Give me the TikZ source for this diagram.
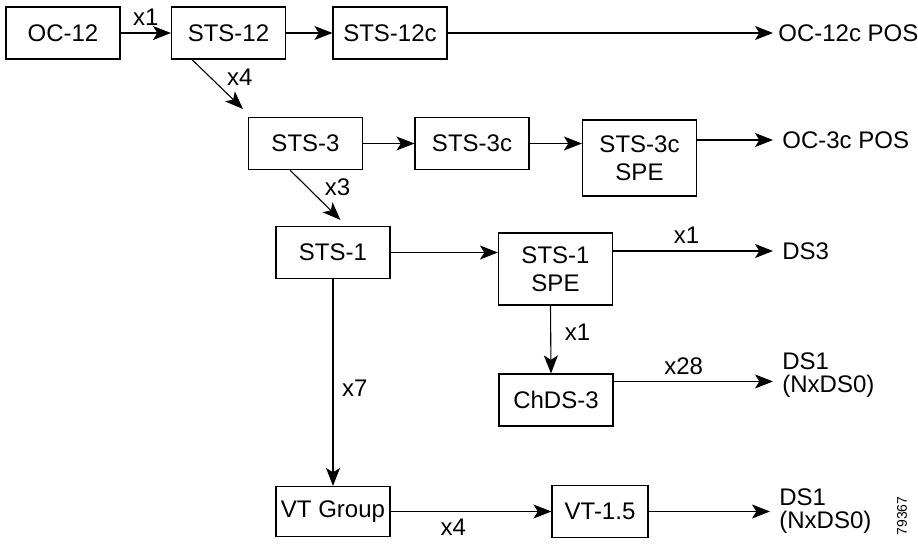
\documentclass[tikz,border=0pt]{standalone}
\usepackage{fontspec}
\setmainfont{Liberation Sans}
\usetikzlibrary{arrows.meta}

\begin{document}
\begin{tikzpicture}[x=0.5pt,y=-0.5pt,
    font=\fontsize{12}{14}\selectfont,
    blk/.style={draw,line width=0.55pt,inner sep=0pt,minimum width=57pt,minimum height=26pt,align=center},
    sig/.style={anchor=west,inner xsep=4.5pt,inner ysep=0pt,align=left,font=\fontsize{12}{11.5}\selectfont},
    arr/.style={-{Stealth[length=9pt,width=7pt,inset=2.2pt]},line width=0.55pt}
    ]
\useasboundingbox (0,0) rectangle (918,546);
\node[blk] (oc12) at (63,33) {OC-12};
\node[blk] (sts12) at (228.5,33) {STS-12};
\node[blk] (sts12c) at (390,33) {STS-12c};
\node[blk] (sts3) at (305.5,143.5) {STS-3};
\node[blk] (sts3c) at (472,143.5) {STS-3c};
\node[blk,minimum height=38pt] (sts3spe) at (639.5,158) {STS-3c\\SPE};
\node[blk] (sts1) at (333,252.5) {STS-1};
\node[blk,minimum height=36pt] (sts1spe) at (555.5,269) {STS-1\\SPE};
\node[blk] (chds3) at (556,400) {ChDS-3};
\node[blk,minimum height=25pt] (vtgrp) at (333,511.5) {VT Group};
\node[blk,minimum width=48pt] (vt15) at (600,511.5) {VT-1.5};
\node[sig,inner xsep=2.5pt] (oc12cpos) at (773,33) {OC-12c POS};
\node[sig] (oc3cpos) at (773,140) {OC-3c POS};
\node[sig] (ds3) at (773,251) {DS3};
\node[sig] (ds1a) at (773,375) {DS1\\(NxDS0)};
\node[sig] (ds1b) at (770,511.5) {DS1\\(NxDS0)};
\node[rotate=90,font=\fontsize{7}{8}\selectfont] (fignum) at (902,516) {79367};
\draw[arr] (oc12) -- node[above]{x1} (sts12);
\draw[arr] (sts12) -- (sts12c);
\draw[arr] (sts12c) -- (oc12cpos);
\draw[arr] ([xshift=10.5pt]sts12.south west) -- node[pos=0.35,right=5pt]{x4} ([shift={(-2.5pt,4pt)}]sts3.north west);
\draw[arr] (sts3) -- (sts3c);
\draw[arr] (sts3c) -- (sts3c -| sts3spe.west);
\draw[arr] (sts3spe.east |- oc3cpos) -- (oc3cpos);
\draw[arr] ([xshift=21pt]sts3.south west) -- node[pos=0.35,right=5pt]{x3} ([shift={(32.5pt,3pt)}]sts1.north west);
\draw[arr] (sts1) -- (sts1 -| sts1spe.west);
\draw[arr] (sts1spe.east |- ds3) -- node[above,pos=0.46]{x1} (ds3);
\draw[arr] ([xshift=-2.5pt]sts1spe.south) -- node[pos=0.39,right=3.5pt]{x1} ([xshift=-2.5pt]chds3.north);
\draw[arr] ([yshift=-4pt]chds3.north east) -- node[above,pos=0.44]{x28} ([yshift=-4pt]chds3.north east -| ds1a.west);
\draw[arr] (sts1) -- node[pos=0.53,right=1pt]{x7} (vtgrp);
\draw[arr] (vtgrp) -- node[below,pos=0.39]{x4} (vt15);
\draw[arr] (vt15) -- (ds1b);
\end{tikzpicture}
\end{document}
